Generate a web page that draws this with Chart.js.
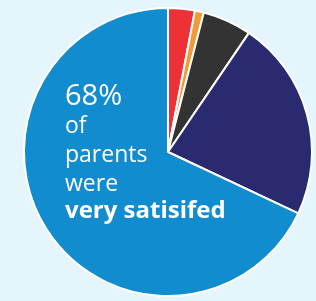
<!DOCTYPE html>
<html lang="en">
<head>
    <meta charset="UTF-8">
    <title>Parent satisfaction</title>
    <script src="https://cdn.jsdelivr.net/npm/chart.js"></script>
    <style>
        html, body { margin: 0; padding: 0; background: #e5f5fc; overflow: hidden; }
        #wrap { position: relative; width: 316px; height: 301px; }
    </style>
</head>
<body>
    <div id="wrap"><canvas id="chart"></canvas></div>

    <script>
        // slices clockwise from 12 o'clock
        var labels = ['Very dissatisfied', 'Dissatisfied', 'Neutral', 'Satisfied', 'Very satisfied'];
        var values = [3, 1, 5.5, 22.5, 68];
        var colors = ['#ec3237', '#f39a34', '#333333', '#2a2a70', '#118cce'];
        var calloutLines = ['68%', 'of', 'parents', 'were', 'very satisifed'];

        // text sitting on the big slice
        var calloutPlugin = {
            id: 'callout',
            afterDraw: function(chart) {
                var ctx = chart.ctx;
                ctx.save();
                ctx.fillStyle = '#ffffff';
                ctx.textBaseline = 'alphabetic';
                ctx.textAlign = 'left';
                var x = 65;
                var fonts = ['29px "Open Sans"', '23px "Open Sans"', '23px "Open Sans"', '23px "Open Sans"', 'bold 24px "Open Sans"'];
                var ys = [105, 133, 162, 191, 218];
                calloutLines.forEach(function(t, i) {
                    ctx.font = fonts[i];
                    ctx.fillText(t, x, ys[i]);
                });
                ctx.restore();
            }
        };

        var ctx = document.getElementById('chart');
        var chart = new Chart(ctx, {
            type: 'pie',
            data: {
                labels: labels,
                datasets: [{
                    data: values,
                    backgroundColor: colors,
                    borderColor: '#ffffff',
                    borderWidth: 2
                }]
            },
            options: {
                responsive: true,
                maintainAspectRatio: false,
                animation: false,
                layout: { padding: { left: 23, right: 3, top: 7, bottom: 4 } },
                plugins: {
                    legend: { display: false },
                    tooltip: { enabled: false }
                }
            },
            plugins: [calloutPlugin]
        });
    </script>
</body>
</html>
